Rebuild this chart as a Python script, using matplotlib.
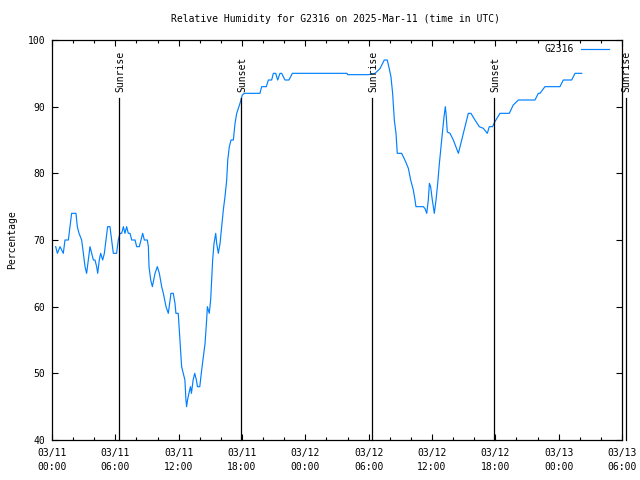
import matplotlib
matplotlib.use("Agg")
import matplotlib.pyplot as plt
import matplotlib.dates as mdates
from datetime import datetime, timedelta

# ---- data (hours since 2025-03-11 00:00 UTC, relative humidity %) ----
hours = [0.35, 0.51, 0.76, 0.92, 1.07, 1.23, 1.55, 1.71, 1.86, 2.27, 2.40, 2.56, 2.81, 2.97,
         3.13, 3.28, 3.44, 3.60, 3.76, 3.92, 4.07, 4.23, 4.33, 4.48, 4.61, 4.80, 4.96, 5.12,
         5.27, 5.49, 5.65, 5.81, 6.12, 6.28, 6.44, 6.60, 6.76, 6.91, 7.07, 7.23, 7.39, 7.55,
         7.87, 8.02, 8.27, 8.43, 8.59, 8.75, 9.03, 9.13, 9.19, 9.35, 9.51, 9.76, 9.98, 10.17,
         10.39, 10.55, 10.80, 11.02, 11.18, 11.27, 11.49, 11.65, 11.74, 11.96, 12.12, 12.28,
         12.44, 12.59, 12.69, 12.75, 12.84, 12.97, 13.12, 13.21, 13.37, 13.52, 13.68, 13.78,
         14.00, 14.18, 14.34, 14.50, 14.65, 14.72, 14.90, 15.03, 15.13, 15.22, 15.35, 15.51,
         15.60, 15.76, 15.92, 16.07, 16.23, 16.39, 16.55, 16.65, 16.80, 16.96, 17.18, 17.34,
         17.50, 17.81, 18.03, 18.22, 19.70, 19.86, 20.30, 20.50, 20.81, 20.97, 21.19, 21.38,
         21.60, 21.76, 22.07, 22.45, 22.77, 27.95, 28.00, 29.97, 30.60, 31.07, 31.48, 31.76,
         31.95, 32.11, 32.27, 32.43, 32.59, 32.71, 33.12, 33.28, 33.50, 33.76, 33.98, 34.23,
         34.39, 34.48, 35.18, 35.34, 35.50, 35.65, 35.75, 35.87, 36.03, 36.13, 36.22, 36.38,
         36.54, 36.70, 36.85, 37.01, 37.14, 37.26, 37.33, 37.45, 37.71, 38.02, 38.50, 38.81,
         39.13, 39.44, 39.69, 40.07, 40.48, 40.86, 41.24, 41.43, 41.74, 41.96, 42.44, 42.91,
         43.32, 43.70, 44.18, 45.76, 46.07, 46.23, 46.70, 48.12, 48.44, 49.23, 49.55, 50.18]
humidity = [69, 68, 69, 68.5, 68, 70, 70, 72, 74, 74, 72, 71, 70, 68,
            66, 65, 67, 69, 68, 67, 67, 66, 65, 67, 68, 67, 68, 70,
            72, 72, 70, 68, 68, 70, 71, 71, 72, 71, 72, 71, 71, 70,
            70, 69, 69, 70, 71, 70, 70, 69, 66, 64, 63, 65, 66, 65,
            63, 62, 60, 59, 61, 62, 62, 60.5, 59, 59, 55, 51,
            50, 49, 46, 45, 46, 47, 48, 47, 49, 50, 49, 48,
            48, 50.5, 52.5, 54.5, 58, 60, 59, 61, 64, 67, 69.5, 71,
            69.5, 68, 69.5, 72, 74.5, 76.5, 79, 82, 84, 85, 85, 87.5,
            89, 90.5, 91.75, 92, 92, 93, 93, 94, 94, 95, 95, 94,
            95, 95, 94, 94, 95, 95, 94.8, 94.8, 95, 95.7, 97, 97,
            95.7, 94.5, 92, 88, 86, 83, 83, 82.5, 81.75, 80.75, 79, 77.5,
            76, 75, 75, 74.7, 74, 76, 78.5, 78, 76, 75, 74, 76,
            78.5, 81.5, 84, 86.5, 88.5, 90, 89, 86.2, 86, 85, 83, 85,
            87, 89, 89, 88, 87, 86.75, 86, 87, 87, 87.75, 89, 89,
            89, 90.25, 91, 91, 92, 92, 93, 93, 94, 94, 95, 95]

event_hours = [6.38, 17.93, 30.35, 41.92, 54.35]
event_labels = ["Sunrise", "Sunset", "Sunrise", "Sunset", "Sunrise"]

series_name = "G2316"
title = "Relative Humidity for G2316 on 2025-Mar-11 (time in UTC)"

# ---- plotting ----
base = datetime(2025, 3, 11, 0, 0)
times = [base + timedelta(hours=h) for h in hours]
event_times = [base + timedelta(hours=h) for h in event_hours]

FONT = "DejaVu Sans Mono"
FS = 7
plt.rcParams["font.family"] = FONT
plt.rcParams["font.size"] = FS

fig = plt.figure(figsize=(6.4, 4.8), dpi=100)
ax = fig.add_axes([52 / 640, 1 - 440 / 480, 570 / 640, 400 / 480])

ax.plot(times, humidity, color="#0080ff", linewidth=0.85, label=series_name)

ax.set_xlim(base, base + timedelta(hours=54))
ax.set_ylim(40, 100)

for t, lab in zip(event_times, event_labels):
    ax.plot([t, t], [40, 91.3], color="black", linewidth=0.9, clip_on=False)
    ax.text(t + timedelta(minutes=6), 92.2, lab, rotation=90, ha="center", va="bottom",
            fontsize=FS, clip_on=False)

ax.xaxis.set_major_locator(mdates.HourLocator(byhour=[0, 6, 12, 18]))
ax.xaxis.set_minor_locator(mdates.HourLocator(interval=2))
ax.xaxis.set_major_formatter(mdates.DateFormatter("%m/%d\n%H:%M"))
ax.set_yticks([40, 50, 60, 70, 80, 90, 100])

ax.tick_params(axis="both", which="both", direction="in", top=True, right=True,
               labelsize=FS, width=0.8)
ax.tick_params(axis="both", which="major", length=4.5, pad=5)
ax.tick_params(axis="x", which="major", pad=6)
ax.tick_params(axis="both", which="minor", length=2.3)
ax.tick_params(axis="y", which="minor", left=False, right=False)
for lbl in ax.get_xticklabels():
    lbl.set_linespacing(1.5)

for s in ax.spines.values():
    s.set_linewidth(0.9)
    s.set_color("black")

ax.set_ylabel("Percentage", fontsize=FS, labelpad=7.5)
fig.text(0.524, 1 - 19 / 480, title, ha="center", va="center", fontsize=FS)

leg = ax.legend(loc="upper right", bbox_to_anchor=(0.977, 0.99), frameon=False,
                markerfirst=False, handlelength=2.9, handletextpad=0.7,
                borderpad=0, borderaxespad=0, fontsize=FS)

fig.savefig("out.png", dpi=100)
